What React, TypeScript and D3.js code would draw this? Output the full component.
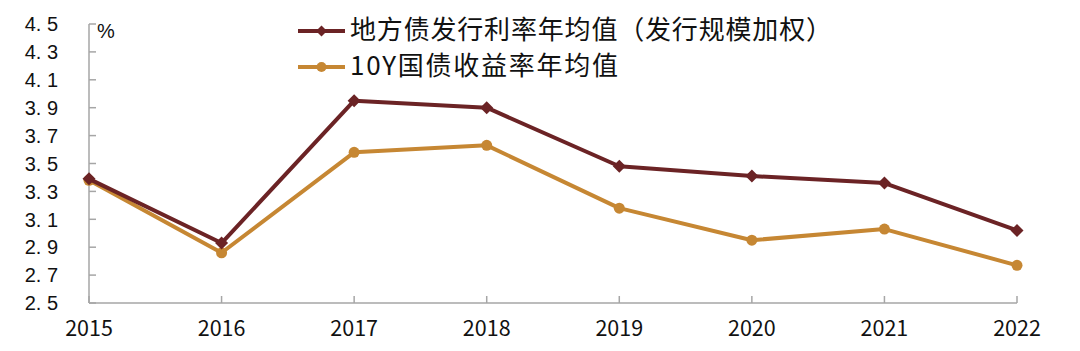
import React from 'react';
import * as d3 from 'd3';

const years = ['2015', '2016', '2017', '2018', '2019', '2020', '2021', '2022'];
const localBondRate = [3.39, 2.93, 3.95, 3.9, 3.48, 3.41, 3.36, 3.02];
const treasury10Y = [3.38, 2.86, 3.58, 3.63, 3.18, 2.95, 3.03, 2.77];
const yTicks = [2.5, 2.7, 2.9, 3.1, 3.3, 3.5, 3.7, 3.9, 4.1, 4.3, 4.5];
const seriesNames = ['地方债发行利率年均值（发行规模加权）', '10Y国债收益率年均值'];

const RED = '#6B2325';
const GOLD = '#C68733';
const AXIS = '#A6A6A6';
const FONT = '"Noto Sans CJK SC", "Noto Sans", sans-serif';
const NUM_FONT = '"Liberation Sans", Arial, sans-serif';

const App = () => {
    const width = 1080;
    const height = 351;
    const left = 89;
    const right = 1017;
    const top = 24;
    const bottom = 303;

    const x = d3.scalePoint<string>().domain(years).range([left, right]);
    const y = d3.scaleLinear().domain([2.5, 4.5]).range([bottom, top]);

    const line = d3.line<number>()
        .x((_, i) => x(years[i]) as number)
        .y(d => y(d));

    const diamond = (cx: number, cy: number, r: number) =>
        `M${cx},${cy - r}L${cx + r},${cy}L${cx},${cy + r}L${cx - r},${cy}Z`;

    return (
        <svg width={width} height={height} style={{ position: 'absolute', left: 0, top: 0, background: '#fff' }}>
            {/* y axis */}
            <line x1={left} x2={left} y1={top} y2={bottom} stroke={AXIS} strokeWidth={1.5} />
            {yTicks.map(t => (
                <g key={t}>
                    <line x1={left} x2={left + 7} y1={y(t)} y2={y(t)} stroke={AXIS} strokeWidth={1.5} />
                    <text x={58} y={y(t)} dy="0.36em" textAnchor="end" fontFamily={NUM_FONT} fontSize={20} fill="#111">
                        {t.toFixed(1).replace('.', '. ')}
                    </text>
                </g>
            ))}
            <text x={97} y={38} fontFamily={NUM_FONT} fontSize={20} fill="#111">%</text>

            {/* x axis */}
            <line x1={left} x2={right} y1={bottom} y2={bottom} stroke={AXIS} strokeWidth={1.5} />
            {years.map(yr => (
                <g key={yr}>
                    <line x1={x(yr)} x2={x(yr)} y1={bottom} y2={bottom - 7} stroke={AXIS} strokeWidth={1.5} />
                    <text x={x(yr)} y={336} textAnchor="middle" fontFamily={FONT} fontSize={21.5} fill="#111">{yr}</text>
                </g>
            ))}

            {/* series */}
            <path d={line(treasury10Y) || ''} fill="none" stroke={GOLD} strokeWidth={4} strokeLinejoin="round" />
            {treasury10Y.map((v, i) => (
                <circle key={i} cx={x(years[i])} cy={y(v)} r={5.5} fill={GOLD} />
            ))}
            <path d={line(localBondRate) || ''} fill="none" stroke={RED} strokeWidth={4} strokeLinejoin="round" />
            {localBondRate.map((v, i) => (
                <path key={i} d={diamond(x(years[i]) as number, y(v), 6.5)} fill={RED} />
            ))}

            {/* legend */}
            <g>
                <line x1={298} x2={345} y1={31} y2={31} stroke={RED} strokeWidth={4} />
                <path d={diamond(321.5, 31, 5.5)} fill={RED} />
                <text x={350} y={30} dy="0.36em" fontFamily={FONT} fontSize={26} fill="#111"
                    textLength={482} lengthAdjust="spacing">{seriesNames[0]}</text>
                <line x1={298} x2={345} y1={67} y2={67} stroke={GOLD} strokeWidth={4} />
                <circle cx={321.5} cy={67} r={5} fill={GOLD} />
                <text x={350} y={66} dy="0.36em" fontFamily={FONT} fontSize={26} fill="#111"
                    textLength={268} lengthAdjust="spacing">{seriesNames[1]}</text>
            </g>
        </svg>
    );
};

export default App;
